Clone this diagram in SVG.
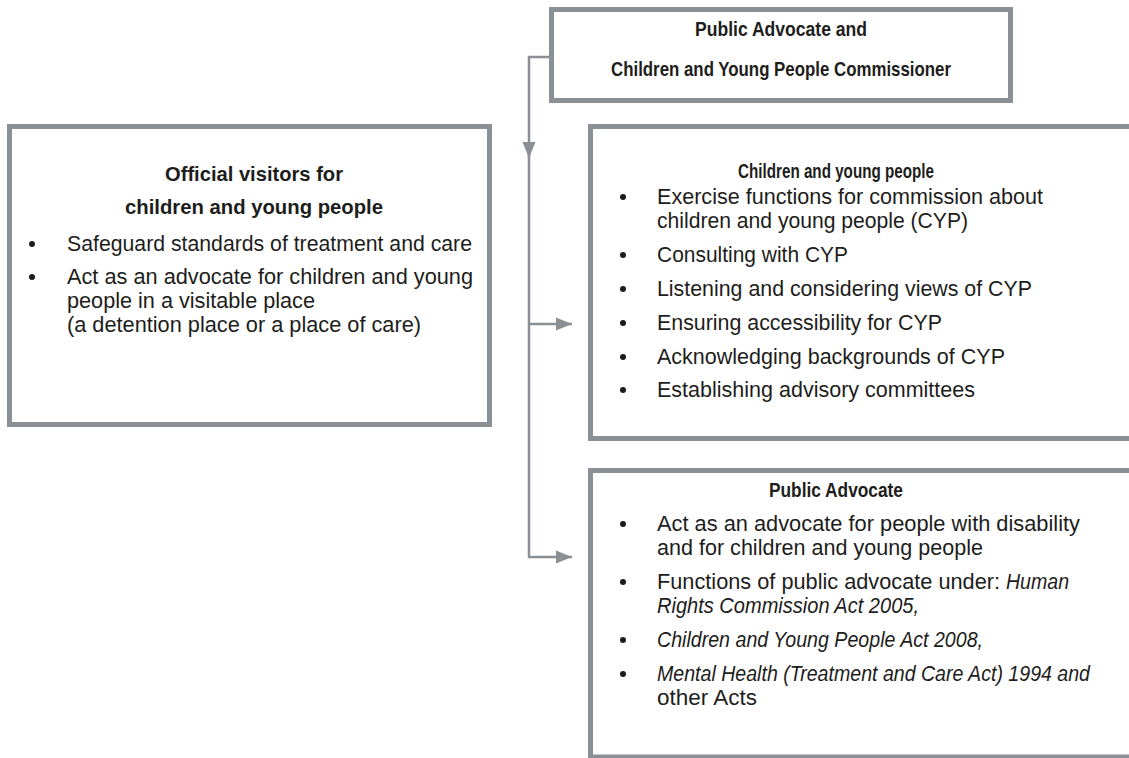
<svg xmlns="http://www.w3.org/2000/svg" width="1129" height="758" viewBox="0 0 1129 758">
  <style>
    .box { fill: #ffffff; stroke: #8b9096; stroke-width: 5; }
    .wire { fill: none; stroke: #8b9096; stroke-width: 2.5; }
    .t { font-family: "Liberation Sans", Arial, sans-serif; font-size: 22px; fill: #1d1d1b; }
    .h { font-family: "Liberation Sans", Arial, sans-serif; font-size: 21px; font-weight: bold; fill: #1d1d1b; text-anchor: middle; }
    .i { font-style: italic; }
    .dot { fill: #1d1d1b; }
  </style>
  <defs>
    <marker id="arrow" markerUnits="userSpaceOnUse" markerWidth="17" markerHeight="14" refX="16" refY="7" orient="auto">
      <path d="M0,0.5 L16,7 L0,13.5 z" fill="#8b9096"/>
    </marker>
  </defs>

  <rect width="1129" height="758" fill="#ffffff"/>

  <!-- connectors -->
  <g id="connectors">
    <path class="wire" d="M556 57 H529 V158" marker-end="url(#arrow)"/>
    <path class="wire" d="M529 150 V557 H572" marker-end="url(#arrow)"/>
    <path class="wire" d="M529 324 H572" marker-end="url(#arrow)"/>
  </g>

  <!-- commissioner -->
  <g id="commissioner">
    <rect class="box" x="551.5" y="9.5" width="459" height="91"/>
    <text class="h" x="781" y="36" textLength="172" lengthAdjust="spacingAndGlyphs">Public Advocate and</text>
    <text class="h" x="781" y="76" textLength="340" lengthAdjust="spacingAndGlyphs">Children and Young People Commissioner</text>
  </g>

  <!-- official visitors -->
  <g id="official-visitors">
    <rect class="box" x="9.5" y="126.5" width="480" height="298"/>
    <text class="h" x="254" y="181" textLength="178" lengthAdjust="spacingAndGlyphs">Official visitors for</text>
    <text class="h" x="254" y="214" textLength="258" lengthAdjust="spacingAndGlyphs">children and young people</text>
    <circle class="dot" cx="32" cy="244" r="3"/>
    <text class="t" x="67" y="251" textLength="405" lengthAdjust="spacingAndGlyphs">Safeguard standards of treatment and care</text>
    <circle class="dot" cx="32" cy="277" r="3"/>
    <text class="t" x="67" y="284" textLength="406" lengthAdjust="spacingAndGlyphs">Act as an advocate for children and young</text>
    <text class="t" x="67" y="308" textLength="248" lengthAdjust="spacingAndGlyphs">people in a visitable place</text>
    <text class="t" x="67" y="332" textLength="354" lengthAdjust="spacingAndGlyphs">(a detention place or a place of care)</text>
  </g>

  <!-- children and young people -->
  <g id="children-young-people">
    <rect class="box" x="590.5" y="126.5" width="560" height="312"/>
    <text class="h" x="836" y="178" textLength="196" lengthAdjust="spacingAndGlyphs">Children and young people</text>
    <circle class="dot" cx="623" cy="197" r="3"/>
    <text class="t" x="657" y="204" textLength="386" lengthAdjust="spacingAndGlyphs">Exercise functions for commission about</text>
    <text class="t" x="657" y="228" textLength="311" lengthAdjust="spacingAndGlyphs">children and young people (CYP)</text>
    <circle class="dot" cx="623" cy="255" r="3"/>
    <text class="t" x="657" y="262" textLength="191" lengthAdjust="spacingAndGlyphs">Consulting with CYP</text>
    <circle class="dot" cx="623" cy="289" r="3"/>
    <text class="t" x="657" y="296" textLength="375" lengthAdjust="spacingAndGlyphs">Listening and considering views of CYP</text>
    <circle class="dot" cx="623" cy="323" r="3"/>
    <text class="t" x="657" y="330" textLength="285" lengthAdjust="spacingAndGlyphs">Ensuring accessibility for CYP</text>
    <circle class="dot" cx="623" cy="357" r="3"/>
    <text class="t" x="657" y="364" textLength="348" lengthAdjust="spacingAndGlyphs">Acknowledging backgrounds of CYP</text>
    <circle class="dot" cx="623" cy="390" r="3"/>
    <text class="t" x="657" y="397" textLength="318" lengthAdjust="spacingAndGlyphs">Establishing advisory committees</text>
  </g>

  <!-- public advocate -->
  <g id="public-advocate">
    <rect class="box" x="590.5" y="470.5" width="560" height="286.5"/>
    <text class="h" x="836" y="497" textLength="134" lengthAdjust="spacingAndGlyphs">Public Advocate</text>
    <circle class="dot" cx="623" cy="524" r="3"/>
    <text class="t" x="657" y="531" textLength="423" lengthAdjust="spacingAndGlyphs">Act as an advocate for people with disability</text>
    <text class="t" x="657" y="555" textLength="326" lengthAdjust="spacingAndGlyphs">and for children and young people</text>
    <circle class="dot" cx="623" cy="582" r="3"/>
    <text class="t" x="657" y="589" textLength="343" lengthAdjust="spacingAndGlyphs">Functions of public advocate under:</text>
    <text class="t i" x="1006" y="589" textLength="63" lengthAdjust="spacingAndGlyphs">Human</text>
    <text class="t i" x="657" y="613" textLength="262" lengthAdjust="spacingAndGlyphs">Rights Commission Act 2005,</text>
    <circle class="dot" cx="623" cy="640" r="3"/>
    <text class="t i" x="657" y="647" textLength="326" lengthAdjust="spacingAndGlyphs">Children and Young People Act 2008,</text>
    <circle class="dot" cx="623" cy="674" r="3"/>
    <text class="t i" x="657" y="681" textLength="433" lengthAdjust="spacingAndGlyphs">Mental Health (Treatment and Care Act) 1994 and</text>
    <text class="t" x="657" y="705" textLength="100" lengthAdjust="spacingAndGlyphs">other Acts</text>
  </g>
</svg>
